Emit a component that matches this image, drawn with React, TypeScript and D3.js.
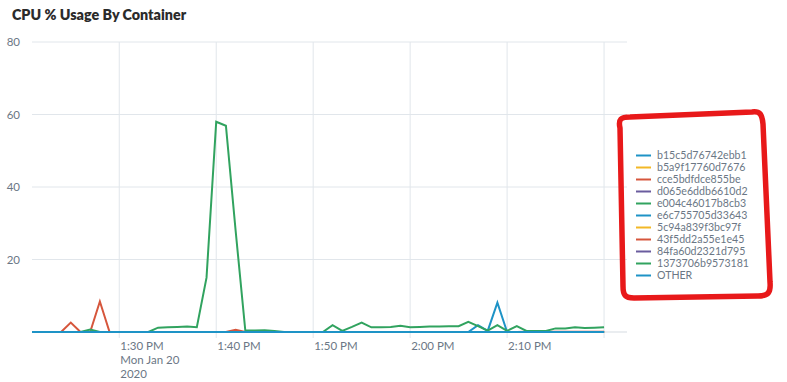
import React from "react";
import * as d3 from "d3";

const seriesNames = [
  "b15c5d76742ebb1",
  "b5a9f17760d7676",
  "cce5bdfdce855be",
  "d065e6ddb6610d2",
  "e004c46017b8cb3",
  "e6c755705d33643",
  "5c94a839f3bc97f",
  "43f5dd2a55e1e45",
  "84fa60d2321d795",
  "1373706b9573181",
  "OTHER",
];
const seriesColors = [
  "#1e93c6", "#f2b827", "#d6563c", "#6a5c9e", "#31a35f",
  "#1e93c6", "#f2b827", "#d6563c", "#6a5c9e", "#31a35f", "#1e93c6",
];

// minutes from 1:21 PM to 2:20 PM (60 points)
const startHour = 13;
const startMinute = 21;
const pointCount = 60;

const blueValues = [
  0, 0, 0, 0, 0, 0, 0, 0, 0, 0,
  0, 0, 0, 0, 0, 0, 0, 0, 0, 0,
  0, 0, 0, 0, 0, 0, 0, 0, 0, 0,
  0, 0, 0, 0, 0, 0, 0, 0, 0, 0,
  0, 0, 0, 0, 0, 0, 1.9, 0.3, 8.1, 0,
  0, 0, 0, 0, 0, 0, 0, 0, 0, 0,
];
const redValues = [
  0, 0, 0, 0, 2.6, 0, 0, 8.4, 0, 0,
  0, 0, 0, 0, 0, 0, 0, 0, 0, 0,
  0, 0.6, 0, 0, 0, 0, 0, 0, 0, 0,
  0, 0, 0, 0, 0, 0, 0, 0, 0, 0,
  0, 0, 0, 0, 0, 0, 0, 0, 0, 0,
  0, 0.1, 0.1, 0.1, 0.1, 0.1, 0.1, 0.1, 0.1, 0.1,
];
const greenValues = [
  0, 0, 0, 0, 0, 0, 0.7, 0, 0, 0,
  0, 0, 0, 1.2, 1.3, 1.4, 1.5, 1.3, 15, 58,
  56.9, 28, 0.4, 0.4, 0.5, 0.3, 0, 0, 0, 0,
  0, 1.9, 0.3, 1.4, 2.6, 1.3, 1.3, 1.4, 1.7, 1.3,
  1.4, 1.5, 1.5, 1.6, 1.6, 2.8, 1.6, 0.4, 1.9, 0.3,
  1.6, 0.3, 0.3, 0.3, 1.0, 1.0, 1.3, 1.1, 1.2, 1.3,
];
const zeroValues = new Array(pointCount).fill(0);

const seriesValues = [
  blueValues, zeroValues, redValues, zeroValues, greenValues,
  zeroValues, zeroValues, zeroValues, zeroValues, zeroValues, zeroValues,
];

const yTicks = [20, 40, 60, 80];
const xTickLabels = ["1:30 PM", "1:40 PM", "1:50 PM", "2:00 PM", "2:10 PM", ""];
const firstTickExtra = ["Mon Jan 20", "2020"];
const title = "CPU % Usage By Container";

export default function App() {
  const W = 787, H = 382;
  const left = 32, right = 627, top = 42, bottom = 332;
  const t0 = new Date(2020, 0, 20, startHour, startMinute);
  const times = d3.range(pointCount).map((i) => d3.timeMinute.offset(t0, i));
  const tEnd = new Date(2020, 0, 20, 14, 22, 22);
  const x = d3.scaleTime().domain([t0, tEnd]).range([left, right]);
  const y = d3.scaleLinear().domain([0, 80]).range([bottom, top]);
  const xTicks = xTickLabels.map((_, i) => new Date(2020, 0, 20, 13, 30 + i * 10));
  const line = d3
    .line<number>()
    .x((_, i) => x(times[i]))
    .y((d) => y(d));

  const fontFam = "Lato, 'Open Sans', sans-serif";
  const labelColor = "#6b7785";

  const legendX = 636, legendY0 = 155.5, legendStep = 12;

  return (
    <svg width={W} height={H} style={{ position: "absolute", left: 0, top: 0, background: "#fff" }} fontFamily={fontFam}>
      <rect width={W} height={H} fill="#fff" />
      <text x={12} y={20} fontSize={14.3} fontWeight={800} fill="#2b2b2b">{title}</text>
      {yTicks.map((t) => (
        <g key={t}>
          <line x1={left} x2={right} y1={y(t)} y2={y(t)} stroke="#e1e6eb" strokeWidth={1} />
          <text x={20} y={y(t) + 4} fontSize={11.5} fill={labelColor} textAnchor="end">{t}</text>
        </g>
      ))}
      {xTicks.map((t, i) => (
        <g key={i}>
          <line x1={x(t)} x2={x(t)} y1={top} y2={bottom + 6} stroke="#e1e6eb" strokeWidth={1} />
          {xTickLabels[i] && (
            <text x={x(t) + 1} y={350} fontSize={11.5} fill={labelColor}>{xTickLabels[i]}</text>
          )}
          {i === 0 &&
            firstTickExtra.map((s, k) => (
              <text key={k} x={x(t) + 1} y={364 + k * 14} fontSize={11.5} fill={labelColor}>{s}</text>
            ))}
        </g>
      ))}
      <line x1={left} x2={right} y1={bottom} y2={bottom} stroke="#d5dbe1" strokeWidth={1} />
      {seriesValues.map((vals, si) => (
        <path key={si} d={line(vals) || ""} fill="none" stroke={seriesColors[si]} strokeWidth={2} strokeLinejoin="miter" />
      ))}
      {seriesNames.map((n, i) => (
        <g key={n}>
          <line x1={legendX} x2={legendX + 15} y1={legendY0 + i * legendStep} y2={legendY0 + i * legendStep} stroke={seriesColors[i]} strokeWidth={2} />
          <text x={657} y={legendY0 + i * legendStep + 3.5} fontSize={10.6} fill={labelColor}>{n}</text>
        </g>
      ))}
      <path
        d="M 620 128 C 618 119, 621 117, 630 117 L 752 112 C 760 111, 762 114, 763 124 L 770 282 C 771 293, 768 296, 758 296 L 634 298 C 625 298, 623 295, 623 286 Z"
        fill="none"
        stroke="#e8191a"
        strokeWidth={5.5}
        strokeLinejoin="round"
      />
    </svg>
  );
}
